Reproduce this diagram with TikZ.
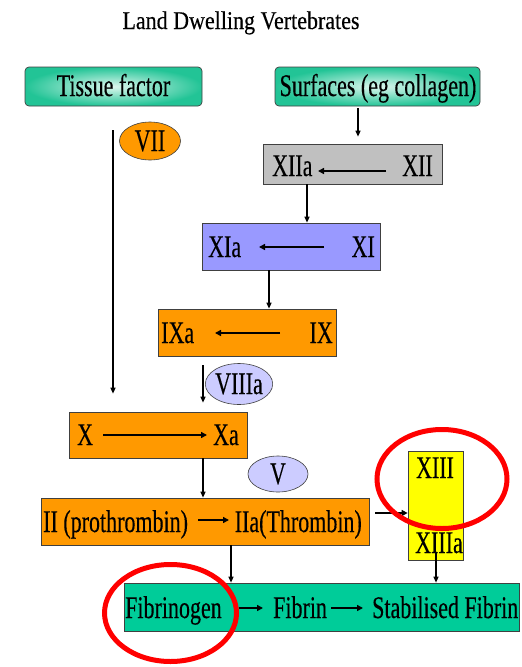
\documentclass[tikz,border=0pt]{standalone}
\usepackage{fontspec}
\setmainfont{Liberation Serif}
\newfontfamily\chartfont{Liberation Serif}[FakeBold=0.35]
\usepackage{graphicx}
\usetikzlibrary{arrows.meta,shapes.geometric,calc}

\definecolor{orng}{HTML}{FF9900}
\definecolor{lilac}{HTML}{9999FF}
\definecolor{paleblue}{HTML}{CCCCFF}
\definecolor{greybox}{HTML}{C0C0C0}
\definecolor{yel}{HTML}{FFFF00}
\definecolor{teal}{HTML}{00CC99}
\definecolor{tealedge}{HTML}{22C496}
\definecolor{tealglow}{HTML}{DDF7EE}
\definecolor{edge}{HTML}{404040}

% tall, narrow lettering used throughout the chart
\newcommand{\tx}[1]{\scalebox{1}[1.43]{#1}}

\begin{document}
\begin{tikzpicture}[x=1pt,y=-1pt,
  box/.style={draw=edge, line width=0.7pt, inner sep=0pt},
  startbox/.style={box, rounded corners=4pt, shade, inner color=tealglow, outer color=tealedge},
  factor/.style={ellipse, draw=edge, line width=0.6pt, inner sep=0pt,
                 font=\chartfont\fontsize{22}{26}\selectfont},
  txt/.style={inner sep=0pt, font=\chartfont\fontsize{22}{26}\selectfont},
  conn/.style={line width=1.2pt, -{Triangle[length=6pt,width=5pt]}},
  inarr/.style={line width=2pt, -{Triangle[length=6pt,width=6pt]}},
  ring/.style={ellipse, draw=red, line width=5pt, inner sep=0pt}]

\useasboundingbox (0,0) rectangle (522,667);

% heading
\node[txt, anchor=base] (title) at (241,29) {\scalebox{1}[1.16]{Land Dwelling Vertebrates}};

% starting points of the two pathways
\node[startbox, minimum width=177, minimum height=39] (tfbox) at (113.5,86.5) {};
\node[txt, anchor=base] (tfT) at (113.5,96) {\tx{Tissue factor}};
\node[startbox, minimum width=205, minimum height=39] (sfbox) at (377.5,86.5) {};
\node[txt, anchor=base] (sfT) at (378,96) {\tx{Surfaces (eg collagen)}};

% activation cascade boxes
\node[box, fill=greybox, minimum width=179, minimum height=40] (xiibox) at (352.5,164) {};
\node[txt, anchor=base west] (xiiaT) at (272,176) {\tx{XIIa}};
\node[txt, anchor=base east] (xiiT) at (433,176) {\tx{XII}};

\node[box, fill=lilac, minimum width=178, minimum height=47] (xibox) at (291,246.5) {};
\node[txt, anchor=base west] (xiaT) at (208,257) {\tx{XIa}};
\node[txt, anchor=base east] (xiT) at (375,257) {\tx{XI}};

\node[box, fill=orng, minimum width=178, minimum height=47] (ixbox) at (247,332.5) {};
\node[txt, anchor=base west] (ixaT) at (161,343) {\tx{IXa}};
\node[txt, anchor=base east] (ixT) at (333,343) {\tx{IX}};

\node[box, fill=orng, minimum width=178, minimum height=46] (xbox) at (158,435) {};
\node[txt, anchor=base west] (xT) at (77,445) {\tx{X}};
\node[txt, anchor=base east] (xaT) at (239,445) {\tx{Xa}};

\node[box, fill=orng, minimum width=328, minimum height=47] (iibox) at (205,521.5) {};
\node[txt, anchor=base west] (iiT) at (43,532) {\tx{II (prothrombin)}};
\node[txt, anchor=base east] (iiaT) at (362,532) {\tx{IIa(Thrombin)}};

\node[box, fill=yel, minimum width=55, minimum height=109] (xiiibox) at (435.5,505.5) {};
\node[txt, anchor=base] (xiiiT) at (435,478) {\tx{XIII}};
\node[txt, anchor=base] (xiiiaT) at (439,553) {\tx{XIIIa}};

\node[box, fill=teal, minimum width=395, minimum height=48] (fibbox) at (321.5,607) {};
\node[txt, anchor=base west] (fgT) at (125,618) {\tx{Fibrinogen}};
\node[txt, anchor=base west] (fbT) at (273,618) {\tx{Fibrin}};
\node[txt, anchor=base west] (sfbT) at (372,618) {\tx{Stabilised Fibrin}};

% cofactors
\node[factor, fill=orng, minimum width=61, minimum height=38] (vii) at (150,141) {\tx{VII}};
\node[factor, fill=paleblue, minimum width=62, minimum height=41] (viiia) at (239,384) {\tx{VIIIa}};
\node[factor, fill=paleblue, minimum width=60, minimum height=36] (v) at (278,474) {\tx{V}};

% conversions inside the boxes
\draw[inarr] ($(xiibox.center)+(33.5,7)$) -- ($(xiibox.center)+(-34.5,7)$);
\draw[inarr] ($(xibox.center)+(33,0.5)$) -- ($(xibox.center)+(-32,0.5)$);
\draw[inarr] ($(ixbox.center)+(33,0.5)$) -- ($(ixbox.center)+(-32,0.5)$);
\draw[inarr] ($(xbox.center)+(-55,0)$) -- ($(xbox.center)+(49,0)$);
\draw[inarr] ($(iibox.center)+(-7,-1.5)$) -- ($(iibox.center)+(24,-1.5)$);
\draw[inarr] ($(fibbox.center)+(-82.5,1)$) -- ($(fibbox.center)+(-58.5,1)$);
\draw[inarr] ($(fibbox.center)+(9.5,1)$) -- ($(fibbox.center)+(41.5,1)$);
\draw[inarr] ($(iibox.east)+(6,-8.5)$) -- ($(xiiibox.west)+(0,7.5)$);

% connectors between the stages
\coordinate (s0) at ($(tfbox.south)+(-0.5,24)$);
\coordinate (s1) at ($(sfbox.south)+(-19.5,0)$);
\coordinate (s2) at ($(xiibox.south)+(-45.5,0)$);
\coordinate (s3) at ($(xibox.south)+(-22,0)$);
\coordinate (s4) at ($(ixbox.south)+(-44,0)$);
\coordinate (s5) at ($(xbox.south)+(45,0)$);
\coordinate (s6) at ($(iibox.south)+(26,0)$);
\coordinate (s7) at ($(xiiibox.south)+(0.5,-7)$);

\draw[conn, shorten >=18pt] (s0) -- (s0 |- xbox.north);
\draw[conn, shorten <=2pt, shorten >=7pt] (s1) -- (s1 |- xiibox.north);
\draw[conn] (s2) -- (s2 |- xibox.north);
\draw[conn] (s3) -- (s3 |- ixbox.north);
\draw[conn, shorten <=9pt, shorten >=9pt] (s4) -- (s4 |- xbox.north);
\draw[conn] (s5) -- (s5 |- iibox.north);
\draw[conn] (s6) -- (s6 |- fibbox.north);
\draw[conn] (s7) -- (s7 |- fibbox.north);

% highlight rings
\node[ring, minimum width=130, minimum height=99] (ringxiii) at (442,479) {};
\node[ring, minimum width=132, minimum height=97] (ringfg) at (170.5,613) {};
\end{tikzpicture}
\end{document}
